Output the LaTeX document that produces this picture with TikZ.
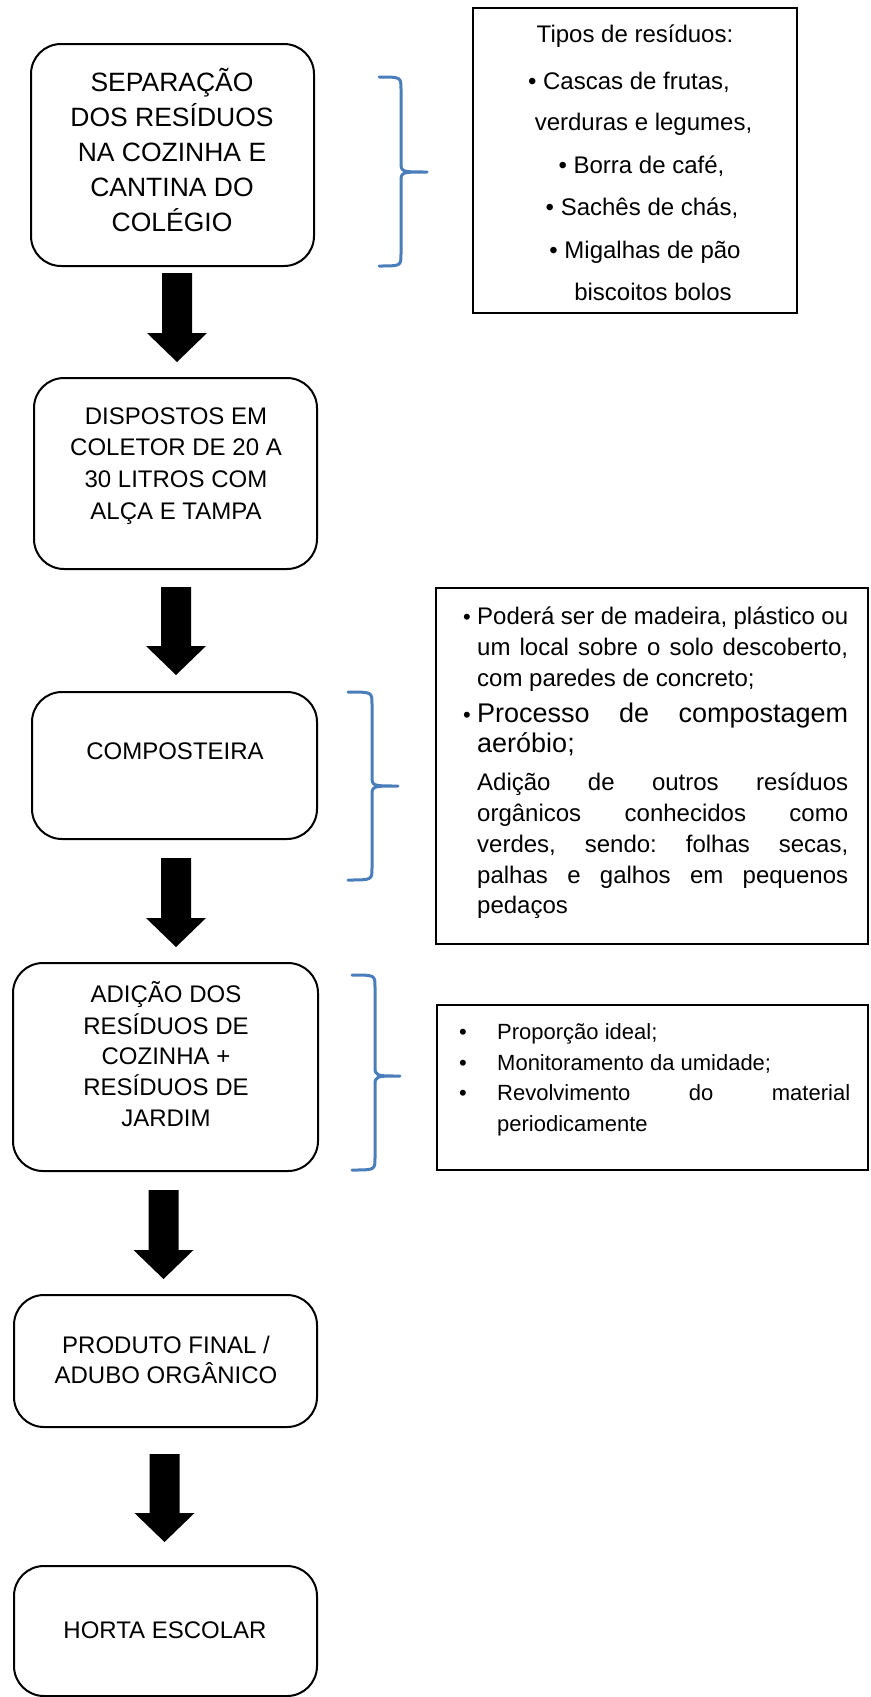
\documentclass[tikz,border=0pt]{standalone}
\usepackage{fontspec}
\setmainfont{Liberation Sans}
\definecolor{braceblue}{HTML}{4A7EBB}
\newcommand\blockarr[6]{\fill (#1-#5,#2) -- (#1+#5,#2) -- (#1+#5,#3) -- (#1+#6,#3) -- (#1,#4) -- (#1-#6,#3) -- (#1-#5,#3) -- cycle;}
\newcommand\mybrace[6]{\draw[bracestyle] (#1,#4) .. controls (#2,#4) .. (#2,#4+12) -- (#2,#5-10) .. controls (#2,#5) .. (#3,#5) (#3,#5) .. controls (#2,#5) .. (#2,#5+10) -- (#2,#6-12) .. controls (#2,#6) .. (#1,#6);}
\begin{document}
\frenchspacing
\begin{tikzpicture}[x=1pt,y=-1pt,
  flowbox/.style={draw,line width=2pt,rounded corners=30pt,inner sep=0pt},
  rbox/.style={draw,line width=2pt,inner sep=0pt},
  captxt/.style={inner sep=0pt,anchor=base,font=\fontsize{24}{29}\selectfont},
  capbig/.style={inner sep=0pt,anchor=base,font=\fontsize{26.5}{31}\selectfont},
  ltxt/.style={inner sep=0pt,anchor=base west,font=\fontsize{22}{26}\selectfont\frenchspacing},
  mtxt/.style={inner sep=0pt,anchor=base west,font=\fontsize{24}{29}\selectfont\frenchspacing},
  bigtxt/.style={inner sep=0pt,anchor=base west,font=\fontsize{27}{32}\selectfont\frenchspacing},
  ctxt/.style={inner sep=0pt,anchor=base,font=\fontsize{24}{29}\selectfont},
  bul/.style={inner sep=0pt,anchor=base,font=\fontsize{22}{26}\selectfont},
  bracestyle/.style={draw=braceblue,line width=3pt,line cap=round,line join=round}]
\useasboundingbox (0,0) rectangle (870,1697);
\fill[white] (0,0) rectangle (870,1697);

% left flow boxes
\node[flowbox,minimum width=283pt,minimum height=222pt] (b1) at (172.5,155) {};
\node[flowbox,minimum width=283pt,minimum height=191pt] (b2) at (175.5,473.5) {};
\node[flowbox,minimum width=285pt,minimum height=147pt] (b3) at (174.5,765.5) {};
\node[flowbox,minimum width=305pt,minimum height=208pt] (b4) at (165.5,1067) {};
\node[flowbox,minimum width=303pt,minimum height=132pt] (b5) at (165.5,1361) {};
\node[flowbox,minimum width=303pt,minimum height=130pt] (b6) at (165.5,1631) {};

% texts of flow boxes
\node[capbig] (t11) at (172,91) {SEPARAÇÃO};
\node[capbig] (t12) at (172,126) {DOS RESÍDUOS};
\node[capbig] (t13) at (172,161) {NA COZINHA E};
\node[capbig] (t14) at (172,196) {CANTINA DO};
\node[capbig] (t15) at (172,231) {COLÉGIO};

\node[captxt] (t21) at (176,424) {DISPOSTOS EM};
\node[captxt] (t22) at (176,455.5) {COLETOR DE 20 A};
\node[captxt] (t23) at (176,487.5) {30 LITROS COM};
\node[captxt] (t24) at (176,519) {ALÇA E TAMPA};

\node[captxt] (t31) at (175,759) {COMPOSTEIRA};

\node[captxt] (t41) at (166,1002) {ADIÇÃO DOS};
\node[captxt] (t42) at (166,1034) {RESÍDUOS DE};
\node[captxt] (t43) at (166,1064) {COZINHA +};
\node[captxt] (t44) at (166,1095) {RESÍDUOS DE};
\node[captxt] (t45) at (166,1126) {JARDIM};

\node[captxt] (t51) at (166,1353) {PRODUTO FINAL /};
\node[captxt] (t52) at (166,1383) {ADUBO ORGÂNICO};

\node[captxt] (t61) at (165,1638) {HORTA ESCOLAR};

% block arrows
\blockarr{177}{273}{333}{362}{15}{30}
\blockarr{176}{587}{646}{675}{15}{30}
\blockarr{176}{858}{918}{947}{15}{30}
\blockarr{163.5}{1190}{1250}{1279}{15}{30}
\blockarr{164.5}{1454}{1513}{1542}{15}{30}

% right boxes
\node[rbox,minimum width=324pt,minimum height=305pt] (r1) at (635,160.5) {};
\node[rbox,minimum width=432pt,minimum height=356pt] (r2) at (652,766) {};
\node[rbox,minimum width=431pt,minimum height=165pt] (r3) at (652.5,1087.5) {};

% braces
\mybrace{379}{401}{427}{77}{172}{266}
\mybrace{348}{372}{398}{692}{786}{880}
\mybrace{352}{375}{400}{975}{1076}{1170}

% text of r1
\node[ctxt] (u1) at (635,42) {Tipos de resíduos:};
\node[ctxt] (u2) at (629,89) {• Cascas de frutas,};
\node[ctxt] (u3) at (643.5,130) {verduras e legumes,};
\node[ctxt] (u4) at (641.5,173) {• Borra de café,};
\node[ctxt] (u5) at (642,215) {• Sachês de chás,};
\node[ctxt] (u6) at (645,258) {• Migalhas de pão};
\node[ctxt] (u7) at (653,300) {biscoitos bolos};

% text of r2
\node[bul] (v0a) at (467,624) {•};
\node[mtxt] (v1) at (477,624) {\makebox[371pt][s]{Poderá ser de madeira, plástico ou}};
\node[mtxt] (v2) at (477,655) {\makebox[371pt][s]{um local sobre o solo descoberto,}};
\node[mtxt] (v3) at (477,686) {com paredes de concreto;};
\node[bul] (v0b) at (467,722) {•};
\node[bigtxt] (v4) at (477,722) {\makebox[371pt][s]{Processo de compostagem}};
\node[bigtxt] (v5) at (477,752) {aeróbio;};
\node[mtxt] (v6) at (477,790) {\makebox[371pt][s]{Adição de outros resíduos}};
\node[mtxt] (v7) at (477,821) {\makebox[371pt][s]{orgânicos conhecidos como}};
\node[mtxt] (v8) at (477,852) {\makebox[371pt][s]{verdes, sendo: folhas secas,}};
\node[mtxt] (v9) at (477,883) {\makebox[371pt][s]{palhas e galhos em pequenos}};
\node[mtxt] (v10) at (477,913) {pedaços};

% text of r3
\node[bul] (w0a) at (463,1039) {•};
\node[bul] (w0b) at (463,1070) {•};
\node[bul] (w0c) at (463,1100) {•};
\node[ltxt] (w1) at (497,1039) {Proporção ideal;};
\node[ltxt] (w2) at (497,1070) {Monitoramento da umidade;};
\node[ltxt] (w3) at (497,1100) {\makebox[353pt][s]{Revolvimento do material}};
\node[ltxt] (w4) at (497,1131) {periodicamente};
\end{tikzpicture}
\end{document}
